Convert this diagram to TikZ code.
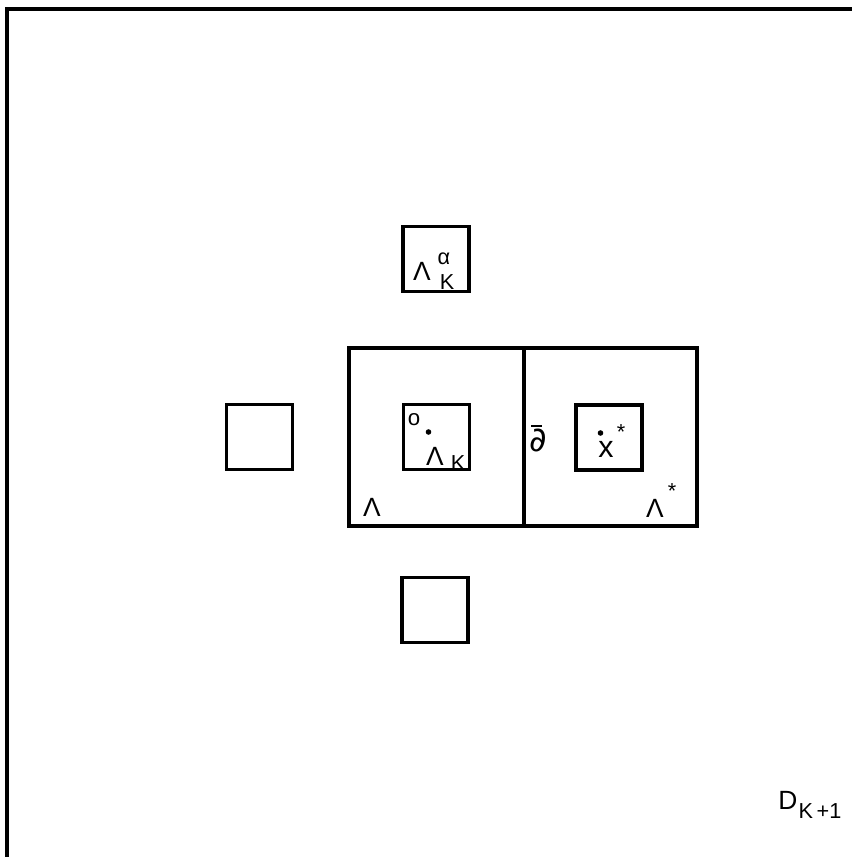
\documentclass[tikz,border=0pt]{standalone}
\usepackage{fontspec}
\setmainfont{Liberation Sans}
\newfontfamily\dejavu{DejaVu Sans}
\begin{document}
\begin{tikzpicture}[x=0.03cm,y=-0.03cm,
  sq/.style={draw,line width=3.2pt,minimum width=1.98cm,minimum height=1.95cm,inner sep=0pt},
  big/.style={draw,line width=2.6pt},
  frame/.style={line width=3.4pt},
  lbl/.style={inner sep=0pt,anchor=center,font=\fontsize{22.5}{26}\selectfont},
  sub/.style={inner sep=0pt,anchor=center,font=\fontsize{18.5}{22}\selectfont},
  tiny/.style={inner sep=0pt,anchor=center,font=\fontsize{19}{21}\selectfont}]
\useasboundingbox (0,0) rectangle (852,857);
% outer frame (right and bottom sides lie outside the picture)
\draw[frame] (7,860) -- (7,9) -- (856,9);
% squares
\node[sq] (top) at (436,259) {};
\node[sq] (left) at (259.5,437) {};
\node[sq] (bottom) at (435,610) {};
\node[sq] (center) at (436.5,437) {};
\node[sq] (right) at (609,437.5) {};
% big rectangle with divider
\draw[big] (349,348) rectangle (697,526);
\coordinate (divtop) at (524,348);
\coordinate (divbot) at (524,526);
\draw[big] (divtop) -- (divbot);
% top square label
\node[lbl] (tL) at (422,271) {Λ};
\node[sub] (tA) at (444,259) {α};
\node[sub] (tK) at (447,282) {K};
% center square label
\node[tiny] (cO) at (414,420) {o};
\fill (428.5,432) circle (2.8);
\node[lbl] (cL) at (435,456) {Λ};
\node[sub] (cK) at (458,463) {K};
% dbar
\node[inner sep=0pt,anchor=center,font=\dejavu\fontsize{29}{32}\selectfont] (dbar) at (538,440) {∂};
\draw[line width=1.4pt] (531,426) -- (542,426);
% x*
\fill (600.5,433) circle (2.8);
\node[inner sep=0pt,anchor=center,font=\fontsize{26}{30}\selectfont] (xs) at (606,449) {x};
\node[sub] (xstar) at (621,432) {*};
% Lambda labels
\node[lbl] (lamL) at (372,507) {Λ};
\node[lbl] (lamR) at (655,508) {Λ};
\node[sub] (lamRs) at (672,491) {*};
% D_{K+1}
\node[lbl] (D) at (788,800) {D};
\node[sub] (Dk) at (820,811) {K\,+1};
\end{tikzpicture}
\end{document}
